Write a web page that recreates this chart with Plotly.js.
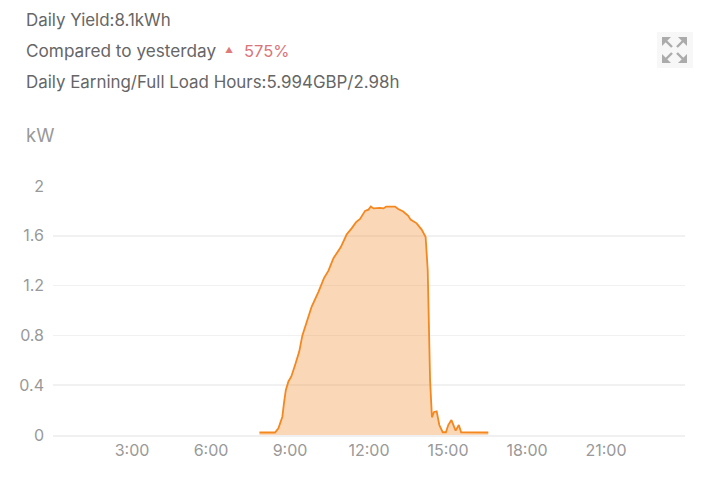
<!DOCTYPE html>
<html>
<head>
<meta charset="utf-8">
<script src="https://cdn.plot.ly/plotly-3.0.1.min.js"></script>
<style>html,body{margin:0;padding:0;background:#fff}#chart{width:720px;height:479px}</style>
</head>
<body>
<div id="chart"></div>
<script>
const hours = [7.84,8.43,8.56,8.71,8.77,8.84,8.94,9.05,9.19,9.35,9.47,9.63,9.82,10.08,10.29,10.46,10.65,10.93,11.15,11.34,11.51,11.66,11.85,11.98,12.07,12.17,12.42,12.55,12.65,12.99,13.11,13.3,13.49,13.58,13.81,14.0,14.15,14.23,14.27,14.32,14.39,14.47,14.57,14.67,14.8,14.92,15.01,15.13,15.29,15.41,15.5,16.53];
const powerKw = [0.02,0.02,0.053,0.147,0.254,0.36,0.43,0.47,0.56,0.67,0.8,0.91,1.03,1.15,1.26,1.32,1.42,1.51,1.61,1.66,1.71,1.735,1.8,1.81,1.835,1.82,1.825,1.82,1.835,1.835,1.815,1.795,1.76,1.73,1.7,1.65,1.59,1.325,0.9,0.44,0.142,0.185,0.19,0.08,0.022,0.022,0.08,0.12,0.035,0.08,0.022,0.02];
const xTickVals = [3,6,9,12,15,18,21];
const xTickText = ['3:00','6:00','9:00','12:00','15:00','18:00','21:00'];
const yTickVals = [0,0.4,0.8,1.2,1.6,2];
const yTickText = ['0','0.4','0.8','1.2','1.6','2'];

const W = 720, H = 479, L = 53, R = 35, T = 186, B = 44;
const px = x => (x - L) / (W - L - R);
const py = y => 1 - (y - T) / (H - T - B);
const FONT = 'Inter, "Open Sans", sans-serif';

function note(text, x, y, size, color) {
  return {text, x: px(x), y: py(y), xref: 'paper', yref: 'paper', xanchor: 'left', yanchor: 'middle',
    showarrow: false, align: 'left', borderpad: 0, borderwidth: 0, font: {family: FONT, size, color}};
}
function seg(x0, y0, x1, y1) {
  return {type: 'line', xref: 'paper', yref: 'paper', x0: px(x0), y0: py(y0), x1: px(x1), y1: py(y1),
    line: {color: '#ababab', width: 2.4}};
}
function corner(x, y, dx, dy) {
  const p = (a, b) => px(a).toFixed(5) + ',' + py(b).toFixed(5);
  return {type: 'path', xref: 'paper', yref: 'paper', layer: 'above',
    path: 'M' + p(x, y) + 'L' + p(x + dx * 9, y) + 'L' + p(x, y + dy * 9) + 'Z',
    fillcolor: '#ababab', line: {color: '#ababab', width: 0}};
}

const shapes = [
  {type: 'rect', xref: 'paper', yref: 'paper', x0: px(657), x1: px(693), y0: py(32), y1: py(68),
    fillcolor: '#f7f7f7', line: {width: 0}, layer: 'below'},
  seg(665, 40, 672, 47), seg(684, 40, 677, 47), seg(665, 60, 672, 53), seg(684, 60, 677, 53),
  corner(662, 37, 1, 1), corner(687, 37, -1, 1), corner(662, 63, 1, -1), corner(687, 63, -1, -1)
];

const annotations = [
  note('Daily Yield:8.1kWh', 26, 20, 16.9, '#666666'),
  note('Compared to yesterday', 26, 51, 17.2, '#666666'),
  note('▲', 225, 50, 8, '#e07a7a'),
  note('575%', 244, 51, 16.5, '#d9757a'),
  note('Daily Earning/Full Load Hours:5.994GBP/2.98h', 26, 82, 16.9, '#666666'),
  note('kW', 26, 135, 18.5, '#999999')
];

Plotly.newPlot('chart', [{
  x: hours, y: powerKw, type: 'scatter', mode: 'lines', fill: 'tozeroy',
  fillcolor: 'rgba(242,150,65,0.38)', line: {color: '#f5871f', width: 1.8, shape: 'linear'},
  hoverinfo: 'skip'
}], {
  width: W, height: H,
  margin: {l: L, r: R, t: T, b: B, pad: 0},
  paper_bgcolor: '#fff', plot_bgcolor: '#fff',
  showlegend: false,
  font: {family: FONT},
  xaxis: {range: [0, 24], tickmode: 'array', tickvals: xTickVals, ticktext: xTickText,
    showgrid: false, zeroline: false, showline: true, linecolor: '#f0f0f0', linewidth: 1.5, ticks: '',
    tickfont: {family: FONT, size: 16, color: '#999999'}, fixedrange: true},
  yaxis: {range: [0, 2], tickmode: 'array', tickvals: yTickVals, ticktext: yTickText,
    showgrid: true, gridcolor: '#f1f1f1', gridwidth: 1.5, zeroline: false, showline: false, ticks: '',
    ticklabelstandoff: 8,
    tickfont: {family: FONT, size: 16, color: '#999999'}, fixedrange: true},
  shapes, annotations
}, {displayModeBar: false, staticPlot: true});
</script>
</body>
</html>
